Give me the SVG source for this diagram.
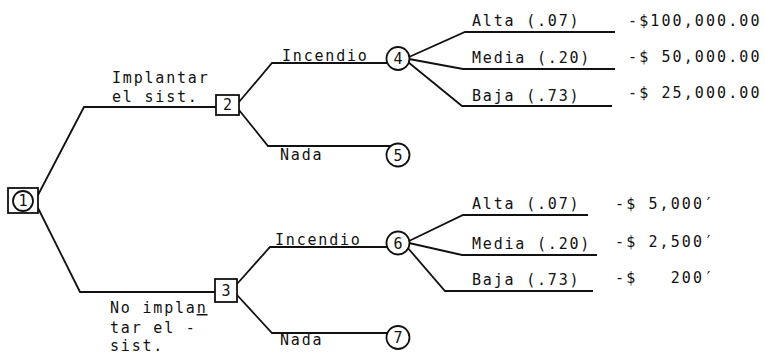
<svg xmlns="http://www.w3.org/2000/svg" width="765" height="356" viewBox="0 0 765 356">
<style>
text{font-family:"DejaVu Sans Mono","Liberation Mono",monospace;font-size:15px;letter-spacing:1.8px;fill:#111}
.num{text-anchor:middle;letter-spacing:0}
.val{letter-spacing:2.1px}
.ln{fill:none;stroke:#111;stroke-width:1.8;stroke-linejoin:miter}
.nd{fill:#fff;stroke:#111;stroke-width:1.8}
</style>
<rect width="765" height="356" fill="#fff"/>
<g id="connectors" class="ln">
<path d="M38,195 L84,107 L216,107"/>
<path d="M38,208 L80,292 L215,292"/>
<path d="M239,102 L272,63 L387,63"/>
<path d="M239,110 L268,146 L391,146"/>
<path d="M237,284 L270,247 L387,247"/>
<path d="M237,295 L272,333 L387,333"/>
<path d="M409,57 L465,32 L615,32"/>
<path d="M409,59 L463,69 L615,69"/>
<path d="M408,62 L462,106 L612,106"/>
<path d="M409,241 L463,215 L588,215"/>
<path d="M409,243 L462,255 L597,255"/>
<path d="M407,247 L445,291 L593,291"/>
</g>
<g id="edge-labels">
<text x="112" y="83">Implantar</text>
<text x="112" y="102">el sist.</text>
<text x="110" y="313">No impla<tspan text-decoration="underline">n</tspan></text>
<text x="110" y="333">tar el -</text>
<text x="110" y="351">sist.</text>
<text x="282" y="61">Incendio</text>
<text x="280" y="160">Nada</text>
<text x="275" y="245">Incendio</text>
<text x="280" y="345">Nada</text>
</g>
<g id="outcomes">
<text x="472" y="26">Alta (.07)</text>
<text x="472" y="63">Media (.20)</text>
<text x="472" y="101">Baja (.73)</text>
<text x="472" y="209">Alta (.07)</text>
<text x="472" y="249">Media (.20)</text>
<text x="472" y="285">Baja (.73)</text>
<text class="val" x="628" y="26">-$100,000.00</text>
<text class="val" x="628" y="62">-$ 50,000.00</text>
<text class="val" x="628" y="98">-$ 25,000.00</text>
<text class="val" x="615" y="209">-$ 5,000′</text>
<text class="val" x="615" y="247">-$ 2,500′</text>
<text class="val" x="615" y="283" xml:space="preserve">-$   200′</text>
</g>
<g id="n1">
<rect class="nd" x="8" y="188" width="30" height="25"/>
<circle class="nd" cx="23" cy="201" r="10"/>
<text class="num" x="23" y="206">1</text>
</g>
<g id="n2">
<rect class="nd" x="216" y="95" width="23" height="20"/>
<text class="num" x="227.5" y="110">2</text>
</g>
<g id="n3">
<rect class="nd" x="215" y="279" width="22" height="23"/>
<text class="num" x="226" y="296">3</text>
</g>
<g id="n4">
<circle class="nd" cx="398" cy="58.5" r="11.5"/>
<text class="num" x="398" y="64">4</text>
</g>
<g id="n5">
<circle class="nd" cx="398" cy="155" r="11.5"/>
<text class="num" x="398" y="160.5">5</text>
</g>
<g id="n6">
<circle class="nd" cx="398" cy="243" r="11.5"/>
<text class="num" x="398" y="248.5">6</text>
</g>
<g id="n7">
<circle class="nd" cx="398" cy="337.5" r="11.5"/>
<text class="num" x="398" y="343">7</text>
</g>
</svg>
